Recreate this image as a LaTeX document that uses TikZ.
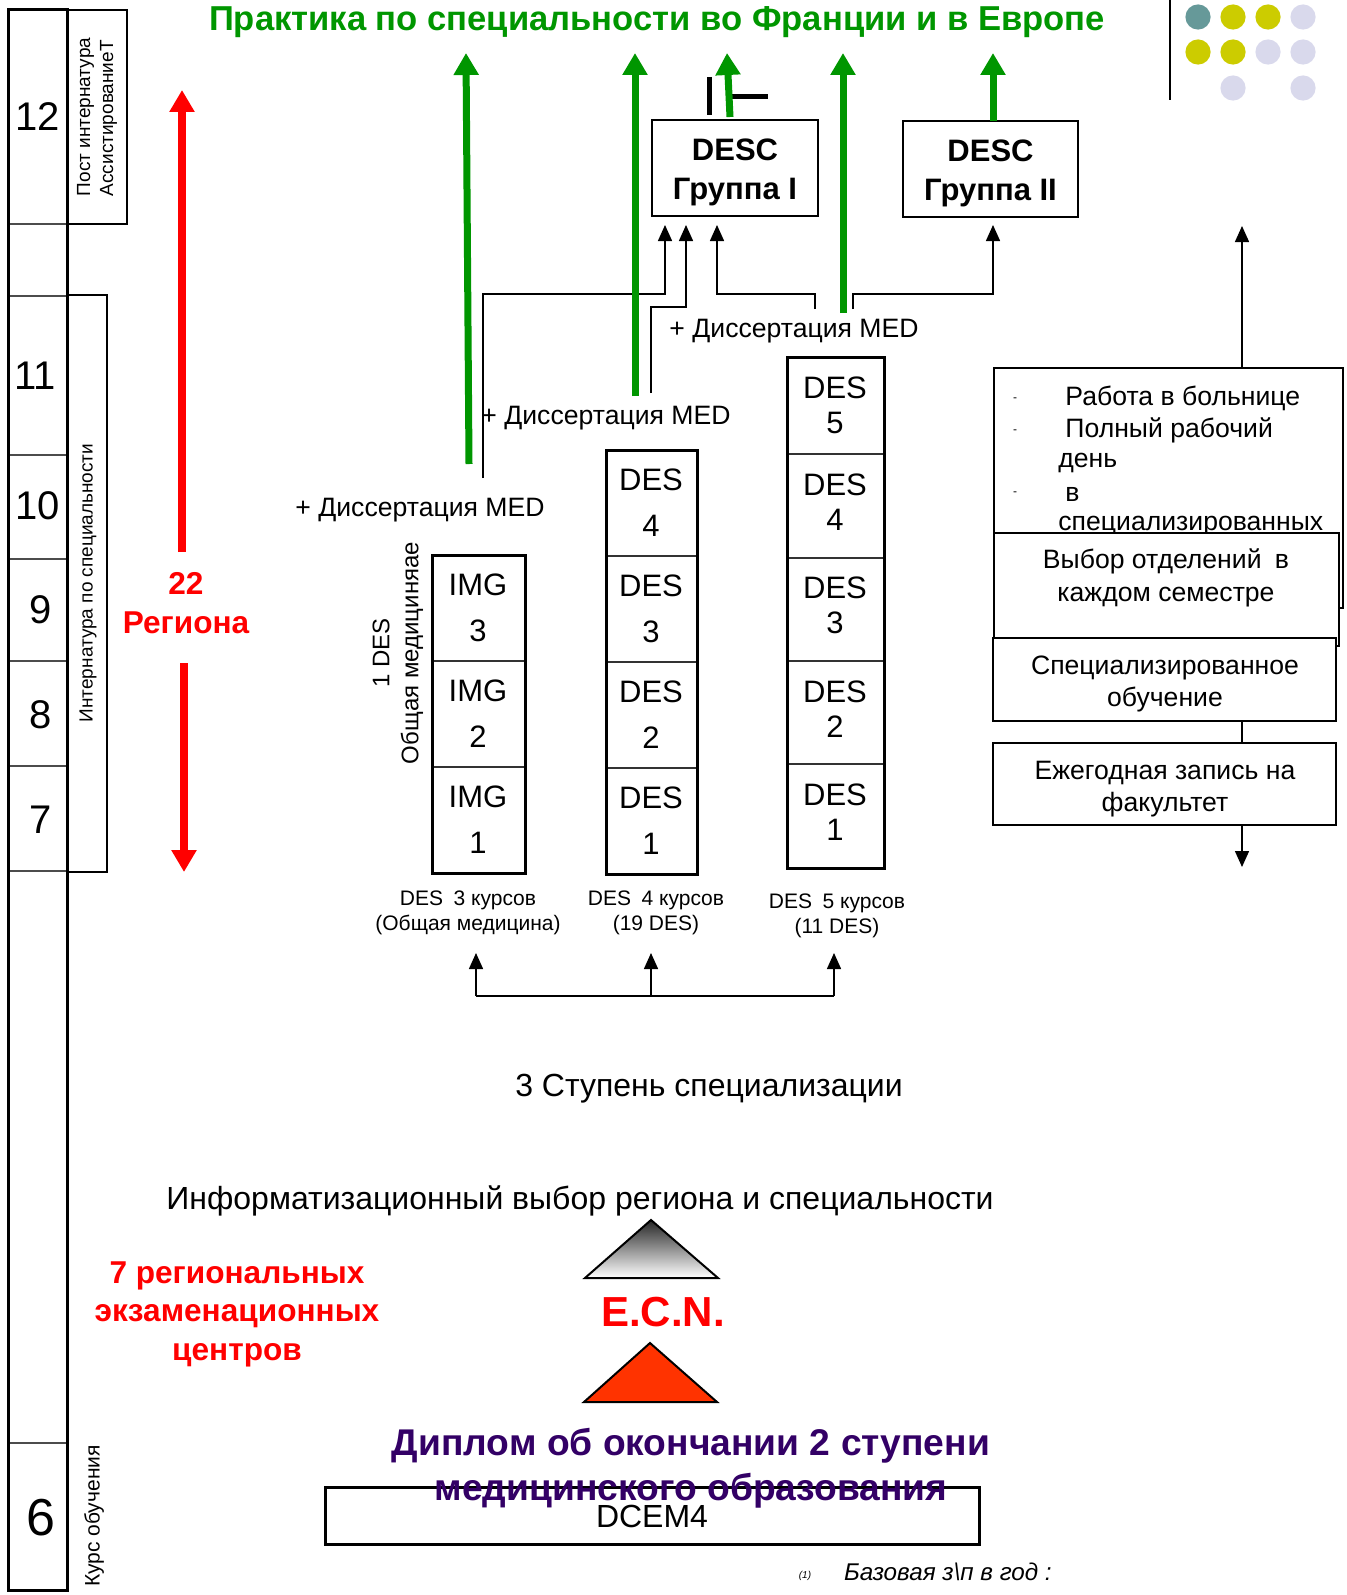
\documentclass[tikz,border=0pt]{standalone}
\usepackage{fontspec}
\setmainfont{Liberation Sans}
\usetikzlibrary{arrows.meta}

\definecolor{grn}{RGB}{0,150,0}
\definecolor{ecnred}{RGB}{255,51,0}
\definecolor{purp}{RGB}{51,0,102}
\definecolor{dotteal}{RGB}{102,153,153}
\definecolor{dotolive}{RGB}{204,204,0}
\definecolor{dotlav}{RGB}{217,217,236}

\begin{document}
\begin{tikzpicture}[x=0.5pt,y=-0.5pt,
  conn/.style={line width=0.75pt,-{Triangle[width=7pt,length=8pt]}},
  greenarr/.style={grn,line width=3.5pt,-{Triangle[width=12pt,length=11pt]}},
  redarr/.style={red,line width=4pt,-{Triangle[width=12pt,length=11pt]}},
  med/.style={font=\fontsize{13.3}{16}\selectfont},
  yearnum/.style={font=\fontsize{20}{24}\selectfont},
  sidelbl/.style={rotate=90,font=\fontsize{9.5}{11.5}\selectfont},
  cellfont/.style={align=center,font=\fontsize{15.5}{23}\selectfont},
  desc/.style={draw,line width=1pt,minimum height=48pt},
  desctxt/.style={align=center,font=\bfseries\fontsize{15.5}{19.5}\selectfont},
  rbox/.style={draw,line width=1pt,fill=white},
  rtxt/.style={align=center,font=\fontsize{13.3}{16.2}\selectfont},
  caption/.style={align=center,font=\fontsize{10.5}{12.5}\selectfont},
  bigtxt/.style={font=\fontsize{16}{20}\selectfont},
  redbold/.style={red,align=center,font=\bfseries\fontsize{15.8}{19.3}\selectfont}]
  \useasboundingbox (0,0) rectangle (1347,1595);

  % course years column
  \foreach \yy in {224,296,455,559,661,766,871,1443}
    \draw[black!70,line width=0.7pt] (8,\yy) -- (67,\yy);
  \draw[line width=1.5pt] (8,10) rectangle (67,1590);
  \node[yearnum] (y12) at (38,117) {12};
  \node[yearnum] (y11) at (35,376) {11};
  \node[yearnum] (y10) at (38,506) {10};
  \node[yearnum] (y9) at (41,610) {9};
  \node[yearnum] (y8) at (41,715) {8};
  \node[yearnum] (y7) at (41,820) {7};
  \node[font=\fontsize{26}{30}\selectfont] (y6) at (41,1518) {6};

  \draw[line width=1pt] (67,10) rectangle (127,224);
  \node[sidelbl,align=left] (post) at (97,117) {Пост интернатура\\АссистированиеТ};
  \draw[line width=1pt] (67,295) rectangle (107,872);
  \node[sidelbl] (intern) at (88,583) {Интернатура по специальности};
  \node[sidelbl,font=\fontsize{10.5}{12}\selectfont] (kurs) at (94,1516) {Курс обучения};

  % 22 regions
  \node[redbold] (reg) at (186,603) {22\\Региона};
  \coordinate (rtop) at (182,90);
  \coordinate (rbot) at (184,872);
  \draw[redarr] (182,552) -- (rtop);
  \draw[redarr] (184,663) -- (rbot);

  % title and dots
  \node[text=grn,font=\bfseries\fontsize{17.3}{20}\selectfont] (title) at (657,22)
    {Практика по специальности во Франции и в Европе};
  \draw[line width=1pt] (1170,0) -- (1170,100);
  \foreach \px/\py/\col in {1198/17/dotteal,1233/17/dotolive,1268/17/dotolive,
      1303/17/dotlav,1198/52/dotolive,1233/52/dotolive,1268/52/dotlav,
      1303/52/dotlav,1233/88/dotlav,1303/88/dotlav}
    \fill[\col] (\px,\py) circle[radius=6.3pt];

  % columns of years
  \foreach \yy in {661,767}
    \draw[black!80,line width=0.7pt] (432,\yy) -- (525,\yy);
  \draw[line width=1.5pt] (432,555) rectangle (525,873);
  \node[cellfont] (img3) at (478,608) {IMG\\3};
  \node[cellfont] (img2) at (478,714) {IMG\\2};
  \node[cellfont] (img1) at (478,820) {IMG\\1};

  \foreach \yy in {556,662,768}
    \draw[black!80,line width=0.7pt] (606,\yy) -- (697,\yy);
  \draw[line width=1.5pt] (606,450) rectangle (697,874);
  \node[cellfont] (m4) at (651,503) {DES\\4};
  \node[cellfont] (m3) at (651,609) {DES\\3};
  \node[cellfont] (m2) at (651,715) {DES\\2};
  \node[cellfont] (m1) at (651,821) {DES\\1};

  \foreach \yy in {454,558,661,764}
    \draw[black!80,line width=0.7pt] (787,\yy) -- (884,\yy);
  \draw[line width=1.5pt] (787,357) rectangle (884,868);
  \node[cellfont,font=\fontsize{15.5}{17.5}\selectfont] (r5) at (835,405) {DES\\5};
  \node[cellfont,font=\fontsize{15.5}{17.5}\selectfont] (r4) at (835,502) {DES\\4};
  \node[cellfont,font=\fontsize{15.5}{17.5}\selectfont] (r3) at (835,605) {DES\\3};
  \node[cellfont,font=\fontsize{15.5}{17.5}\selectfont] (r2) at (835,709) {DES\\2};
  \node[cellfont,font=\fontsize{15.5}{17.5}\selectfont] (r1) at (835,812) {DES\\1};

  \node[rotate=90,align=center,font=\fontsize{12}{14.5}\selectfont] (gen) at (398,653)
    {1 DES\\Общая медициняае};

  \node[caption] (cap1) at (468,913) {DES\enspace 3 курсов\\(Общая медицина)};
  \node[caption] (cap2) at (656,913) {DES\enspace 4 курсов\\(19 DES)};
  \node[caption] (cap3) at (837,916) {DES\enspace 5 курсов\\(11 DES)};

  \coordinate (b1) at (476,996);
  \coordinate (b2) at (651,996);
  \coordinate (b3) at (834,996);
  \draw[line width=0.75pt] (b1) -- (b3);
  \foreach \b in {b1,b2,b3}
    \draw[conn] (\b) -- ++(0,-43);

  % DESC groups
  \node[desc,minimum width=83pt] (descI) at (735,168) {};
  \node[desctxt] (descItxt) at (735,172) {DESC\\Группа I};
  \node[desc,minimum width=87.5pt] (descII) at (990.5,169) {};
  \node[desctxt] (descIItxt) at (990.5,173) {DESC\\Группа II};
  \draw[line width=2.5pt] (709,77) -- (709,115);
  \draw[line width=2.5pt] (730,97) -- (768,97);

  \node[med] (med1) at (420,510) {+ Диссертация MED};
  \node[med] (med2) at (606,418) {+ Диссертация MED};
  \node[med] (med3) at (794,331) {+ Диссертация MED};

  \coordinate (s1) at (483,478);  \coordinate (k1) at (665,294);  \coordinate (t1) at (665,225);
  \coordinate (s2) at (651,393);  \coordinate (k2) at (686,307);  \coordinate (t2) at (686,225);
  \coordinate (s3) at (815,309);  \coordinate (k3) at (717,294);  \coordinate (t3) at (717,225);
  \coordinate (s4) at (853,309);  \coordinate (k4) at (993,294);  \coordinate (t4) at (993,225);
  \draw[conn] (s1) |- (k1) -- (t1);
  \draw[conn] (s2) |- (k2) -- (t2);
  \draw[conn] (s3) |- (k3) -- (t3);
  \draw[conn] (s4) |- (k4) -- (t4);

  % to the title
  \draw[greenarr] (469,464) -- (466,53);
  \draw[greenarr] (635,396) -- (635,53);
  \draw[greenarr] (730,117) -- (727,53);
  \draw[greenarr] (843,313) -- (843,53);
  \draw[greenarr] (993,121) -- (993,53);

  % right side
  \node[rbox,minimum width=174.5pt,minimum height=120pt] (rabota) at (1168.5,488) {};
  \foreach \ty/\tx/\tt in {398/1065/Работа в больнице,430/1065/Полный рабочий,
      463/1058/день,494/1065/в,526/1058/специализированных}
    \node[anchor=west,med,inner sep=0pt] at (\tx,\ty) {\tt};
  \foreach \ty in {400,432,494}
    \node[font=\fontsize{6}{7}\selectfont] at (1015,\ty) {-};
  \node[rbox,minimum width=172.5pt,minimum height=56.5pt] (vybor) at (1166.5,589.5) {};
  \node[rtxt] (vybortxt) at (1166,578) {Выбор отделений\enspace в\\каждом семестре};
  \node[rbox,minimum width=171.5pt,minimum height=41.5pt] (spec) at (1164.5,679.5) {};
  \node[rtxt] (spectxt) at (1165,684) {Специализированное\\обучение};
  \node[rbox,minimum width=171.5pt,minimum height=41pt] (ezheg) at (1164.5,784) {};
  \node[rtxt] (ezhegtxt) at (1165,789) {Ежегодная запись на\\факультет};
  \coordinate (topR) at (1242,226);
  \coordinate (botR) at (1242,867);
  \draw[conn] (rabota.north -| topR) -- (topR);
  \draw[line width=0.75pt] (spec.south -| topR) -- (ezheg.north -| topR);
  \draw[conn] (ezheg.south -| botR) -- (botR);

  % lower part
  \node[bigtxt] (stage3) at (709,1089) {3 Ступень специализации};
  \node[bigtxt] (choice) at (580,1201) {Информатизационный выбор региона и специальности};
  \node[redbold] (centres) at (237,1314) {7 региональных\\экзаменационных\\центров};
  \draw[line width=1pt,top color=black!85,bottom color=white]
    (651,1220) -- (718,1278) -- (585,1278) -- cycle;
  \node[red,font=\bfseries\fontsize{21}{25}\selectfont] (ecn) at (663,1312) {E.C.N.};
  \filldraw[fill=ecnred,line width=1pt] (650,1343) -- (717,1402) -- (584,1402) -- cycle;
  \node[draw,line width=1.5pt,minimum width=327pt,minimum height=28.5pt,
    font=\fontsize{16}{18}\selectfont] (dcem) at (652,1516) {DCEM4};
  \node[text=purp,align=center,font=\bfseries\fontsize{18.6}{22.5}\selectfont] (diplom)
    at (691,1468) {Диплом об окончании 2 ступени\\медицинского образования};
  \node[font=\itshape\fontsize{5}{6}\selectfont] (fn) at (805,1576) {(1)};
  \node[anchor=west,font=\itshape\fontsize{12.1}{14}\selectfont] (salary) at (837,1572)
    {Базовая з\textbackslash п в год :};
\end{tikzpicture}
\end{document}
